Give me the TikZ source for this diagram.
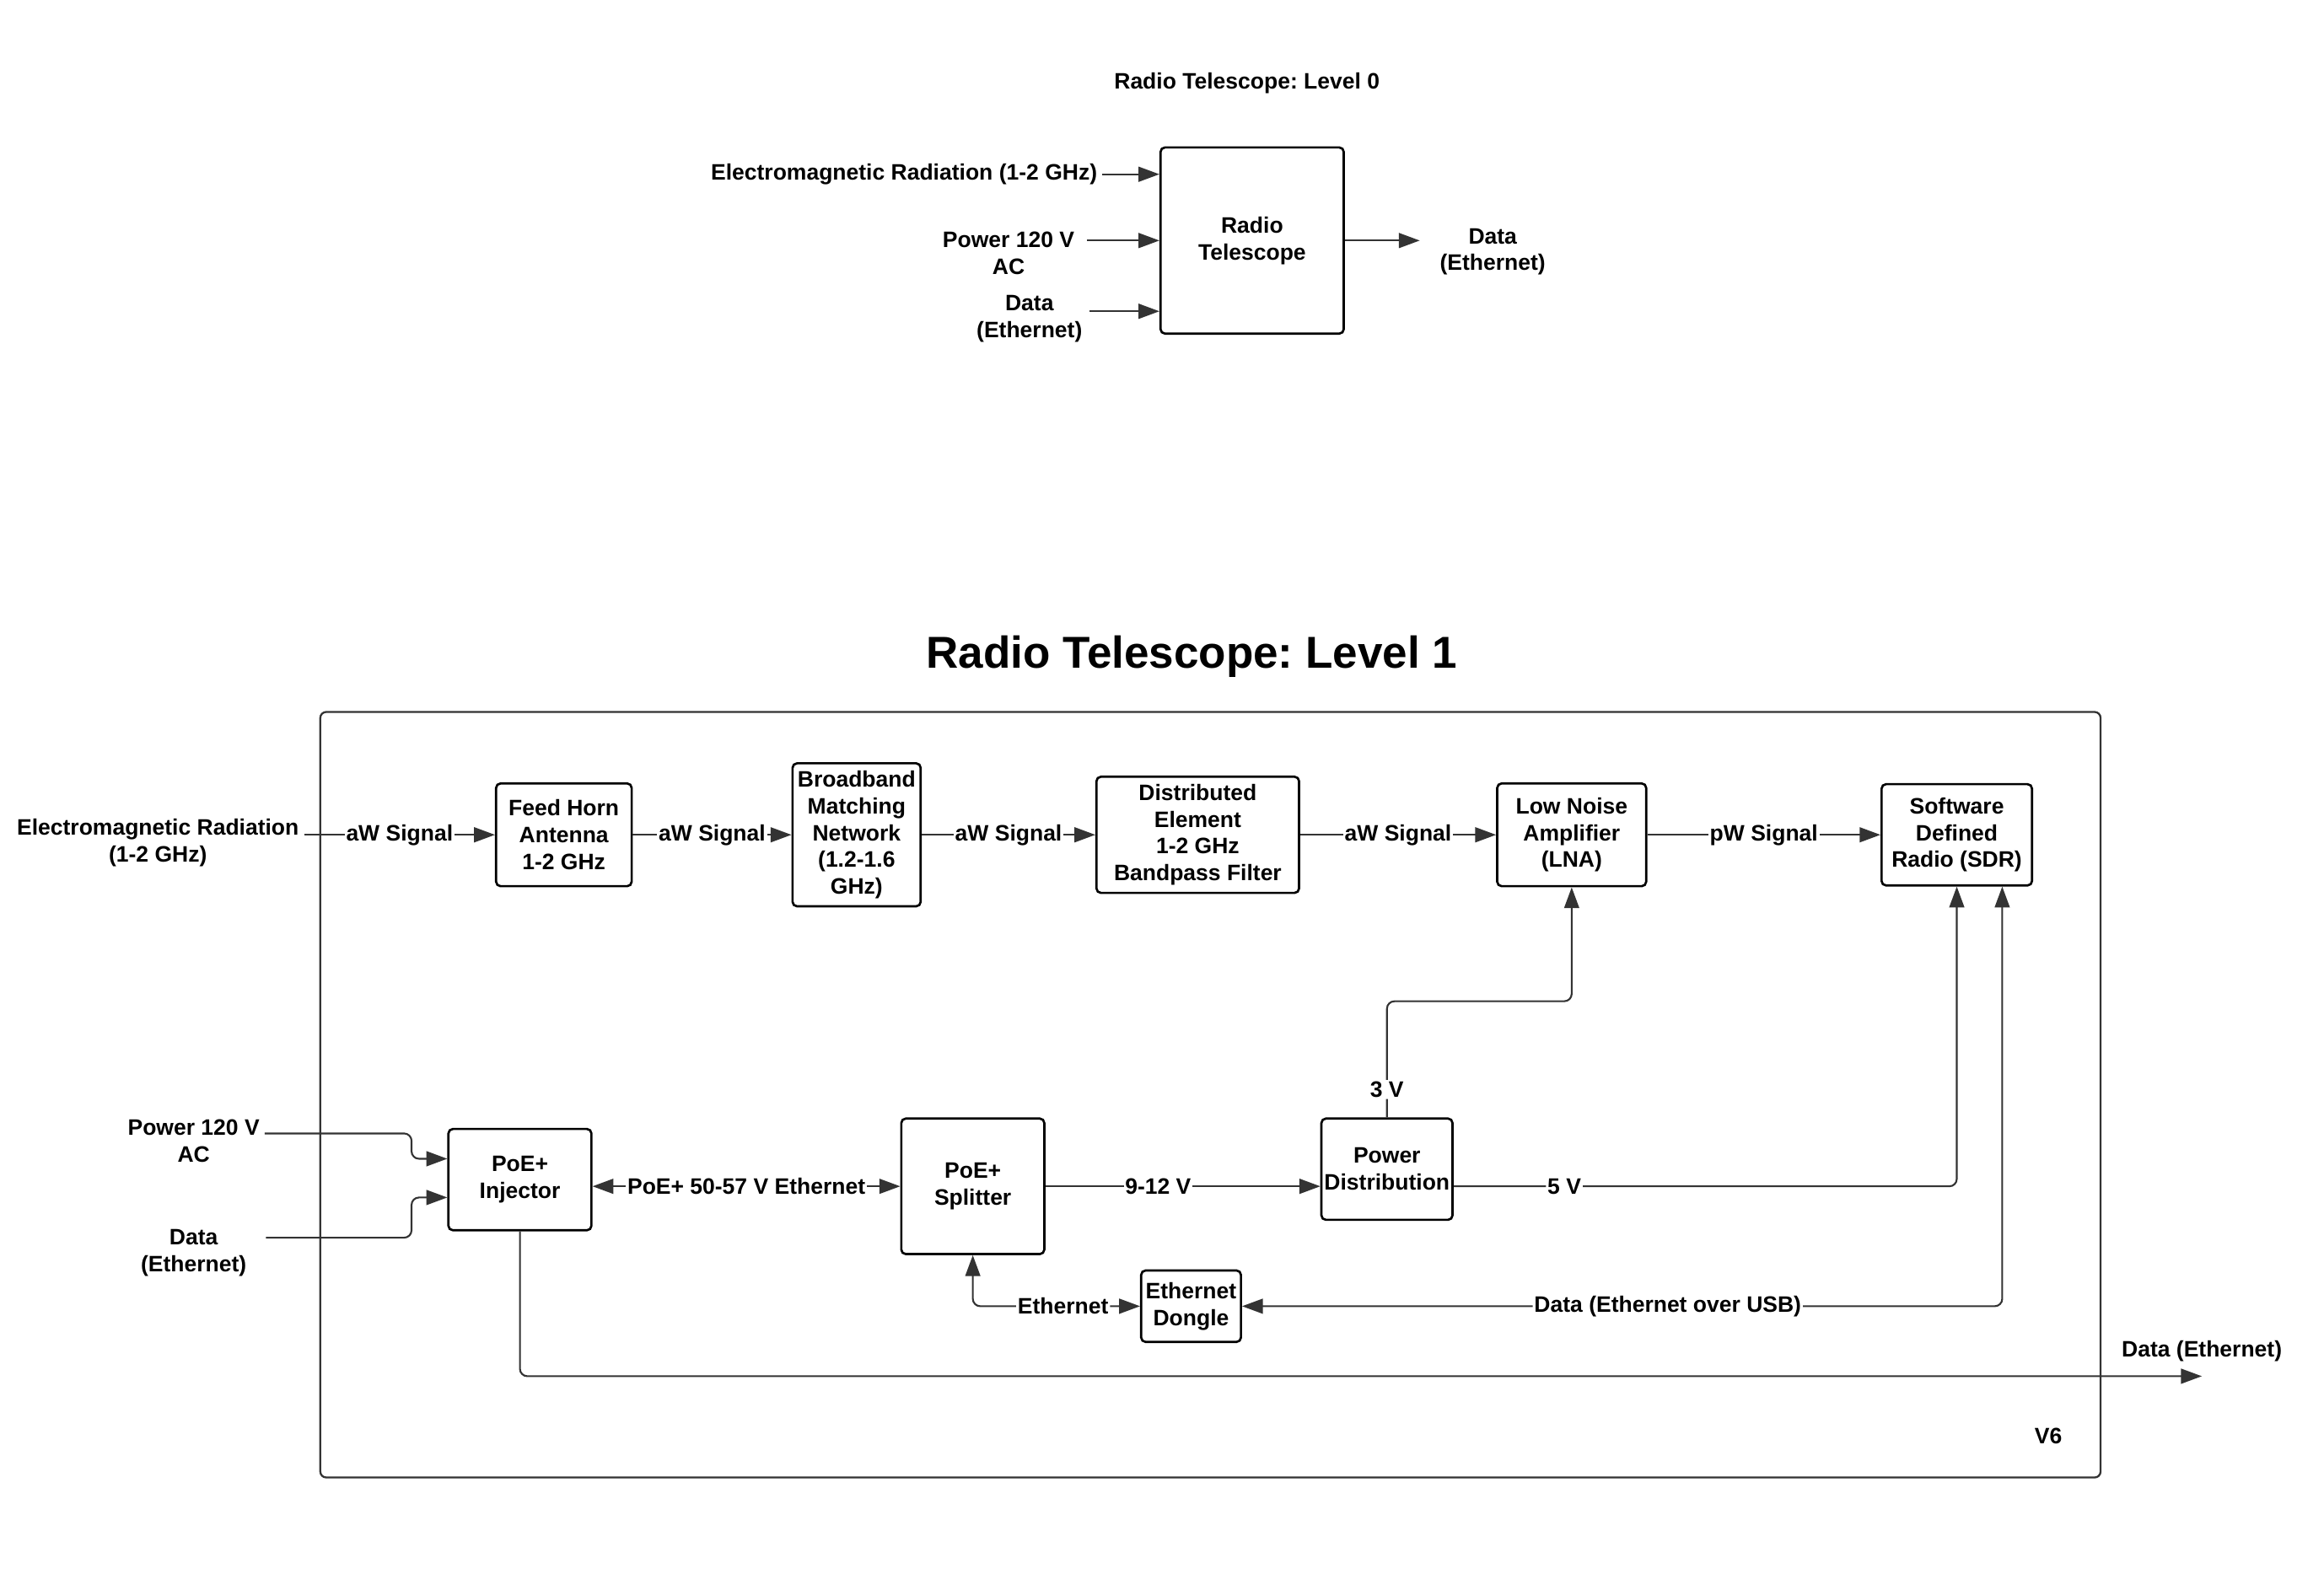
\documentclass[tikz,border=0pt]{standalone}
\usepackage{fontspec}
\setmainfont{Liberation Sans}
\usetikzlibrary{arrows.meta}
\definecolor{ln}{HTML}{333333}
\frenchspacing

\begin{document}
\begin{tikzpicture}[
      x=1pt, y=-1pt,
      every node/.style={font=\fontsize{15}{18}\selectfont\bfseries, align=center},
      blk/.style={draw=black, line width=1.5pt, rounded corners=3pt, inner sep=0pt},
      lbl/.style={fill=white, inner sep=1pt},
      arr/.style={draw=ln, line width=1.2pt, -{Triangle[length=14pt,width=10pt]}},
      dbl/.style={draw=ln, line width=1.2pt, {Triangle[length=14pt,width=10pt]}-{Triangle[length=14pt,width=10pt]}}]
        \useasboundingbox (0,0) rectangle (1560,1067);

        % level 0
        \node (title0) at (837,56) {Radio Telescope: Level 0};
        \node[blk, minimum width=123pt, minimum height=125pt] (rt) at (840.5,161.5) {Radio\\Telescope};

        \node[anchor=east] (em0) at (740,117) {Electromagnetic Radiation (1-2 GHz)};
        \node (pwr0) at (677,170) {Power 120 V\\AC};
        \node (dat0) at (691,214) {Data\\(Ethernet)};
        \node (out0) at (1002,169) {Data\\(Ethernet)};
        \coordinate (dat0in) at ([yshift=-47.5pt]rt.west);
        \coordinate (out0end) at (953,161.5);

        \draw[arr] (em0.east) -- (em0.east -| rt.west);
        \draw[arr, shorten <=5pt] (pwr0.east |- rt.west) -- (rt.west);
        \draw[arr, shorten <=1.5pt] (dat0.east |- dat0in) -- (dat0in);
        \draw[arr] (rt.east) -- (out0end);

        % level 1
        \node[font=\fontsize{30}{36}\selectfont\bfseries] (title1) at (800,441) {Radio Telescope: Level 1};
        \draw[ln, line width=1.3pt, rounded corners=4pt] (215,478) rectangle (1410,992);

        \node[blk, minimum width=91pt, minimum height=69pt] (horn) at (378.5,560.5) {Feed Horn\\Antenna\\1-2 GHz};
        \node[blk, minimum width=86pt, minimum height=96pt] (bmn) at (575,560.5) {Broadband\\Matching\\Network\\(1.2-1.6\\GHz)};
        \node[blk, minimum width=136pt, minimum height=78pt] (bpf) at (804,560.5) {Distributed\\Element\\1-2 GHz\\Bandpass Filter};
        \node[blk, minimum width=100pt, minimum height=69pt] (lna) at (1055,560.5) {Low Noise\\Amplifier\\(LNA)};
        \node[blk, minimum width=101pt, minimum height=68pt] (sdr) at (1313.5,560.5) {Software\\Defined\\Radio (SDR)};

        \node[blk, minimum width=96pt, minimum height=68pt] (inj) at (349,792) {PoE+\\Injector};
        \node[blk, minimum width=96pt, minimum height=91pt] (spl) at (653,796.5) {PoE+\\Splitter};
        \node[blk, minimum width=88pt, minimum height=68pt] (pd) at (931,785) {Power\\Distribution};
        \node[blk, minimum width=67pt, minimum height=48pt] (dng) at (799.5,877) {Ethernet\\Dongle};

        \node (em1) at (106,566) {Electromagnetic Radiation\\(1-2 GHz)};
        \node (pwr1) at (130,766) {Power 120 V\\AC};
        \node (dat1) at (130,841) {Data\\(Ethernet)};
        \node (out1) at (1478,907) {Data (Ethernet)};
        \node (ver) at (1375,964) {V6};
        \coordinate (dout) at (1478,924);

        % signal chain
        \draw[arr] (em1.east |- horn.west) -- node[lbl]{aW Signal} (horn.west);
        \draw[arr] (horn.east) -- node[lbl]{aW Signal} (bmn.west);
        \draw[arr] (bmn.east) -- node[lbl]{aW Signal} (bpf.west);
        \draw[arr] (bpf.east) -- node[lbl]{aW Signal} (lna.west);
        \draw[arr] (lna.east) -- node[lbl]{pW Signal} (sdr.west);

        % power and data
        \draw[arr, rounded corners=5pt] ([yshift=5pt]pwr1.east) -| ([xshift=-24pt,yshift=14pt]inj.west) -- ([yshift=14pt]inj.west);
        \draw[arr, rounded corners=5pt] ([shift={(9.5pt,10pt)}]dat1.east) -| ([xshift=-24pt,yshift=-12pt]inj.west) -- ([yshift=-12pt]inj.west);
        \draw[dbl] (inj.east |- spl.west) -- node[lbl]{PoE+ 50-57 V Ethernet} (spl.west);
        \draw[arr] (spl.east) -- node[lbl, pos=.41]{9-12 V} (spl.east -| pd.west);
        \draw[arr, rounded corners=5pt] (pd.north) -- node[lbl, pos=.24]{3 V} ++(0,-78) -| (lna.south);
        \draw[arr, rounded corners=5pt] (spl.east -| pd.east) -| node[lbl, pos=.11]{5 V} (sdr.south);
        \draw[dbl, rounded corners=5pt] (spl.south) |- node[lbl, pos=.77]{Ethernet} (dng.west);
        \draw[dbl, rounded corners=5pt] (dng.east) -| node[lbl, pos=.28]{Data (Ethernet over USB)} ([xshift=30.5pt]sdr.south);
        \draw[arr, rounded corners=5pt] (inj.south) |- (dout);

      \end{tikzpicture}
\end{document}
